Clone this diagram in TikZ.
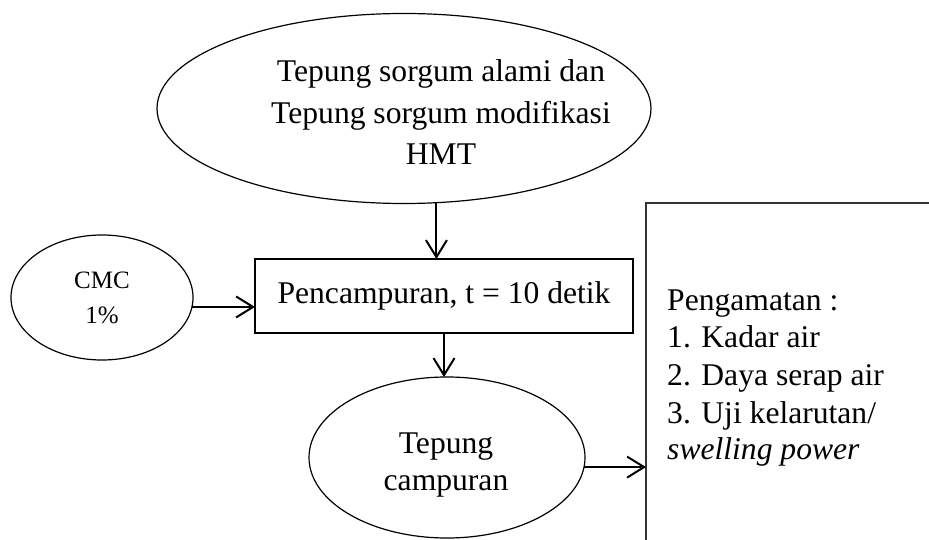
\documentclass[tikz,border=0pt]{standalone}
\usepackage{fontspec}
\setmainfont{Liberation Serif}
\usetikzlibrary{shapes.geometric,arrows.meta,calc}
\begin{document}
\begin{tikzpicture}[x=1pt,y=-1pt,
  ell/.style={draw, ellipse, line width=1.2pt, inner sep=0pt, outer sep=0pt},
  txt/.style={inner sep=0pt, anchor=base, font=\fontsize{31.6}{37.7}\selectfont},
  smalltxt/.style={inner sep=0pt, anchor=base, font=\fontsize{25}{30}\selectfont},
  proc/.style={draw, rectangle, line width=1.2pt, inner sep=0pt, outer sep=0pt},
  arr/.style={line width=2pt, -{Straight Barb[length=17pt,width=21pt]}}
]
\clip (0,0) rectangle (929,540);
% top ellipse
\node[ell, minimum width=494pt, minimum height=190pt] (top) at (404,108.5) {};
\node[txt] (t1) at (441,81.7) {Tepung sorgum alami dan};
\node[txt] (t2) at (441,123.3) {Tepung sorgum modifikasi};
\node[txt] (t3) at (441,165) {HMT};
% mixing box
\node[proc, minimum width=378pt, minimum height=74pt, font=\fontsize{31.6}{37.7}\selectfont] (pc) at (444,296) {Pencampuran, t = 10 detik};
% CMC
\node[ell, minimum width=182pt, minimum height=125pt] (cmc) at (102,297.5) {};
\node[smalltxt] (c1) at (102,288) {CMC};
\node[smalltxt] (c2) at (102,323) {1\%};
% Tepung campuran
\node[ell, minimum width=276pt, minimum height=161pt] (tc) at (447,457.5) {};
\node[txt] (tc1) at (446,453) {Tepung};
\node[txt] (tc2) at (446,490) {campuran};
% observation box
\node[draw=black!80, line width=1.5pt, rectangle, inner sep=0pt, outer sep=0pt, anchor=north west, minimum width=320pt, minimum height=380pt] (obs) at (646,203) {};
\node[txt, anchor=base west] (o1) at (667,310) {Pengamatan :};
\node[txt, anchor=base west] (o2) at (667,347.7) {1. Kadar air};
\node[txt, anchor=base west] (o3) at (667,385.4) {2. Daya serap air};
\node[txt, anchor=base west] (o4) at (667,423) {3. Uji kelarutan/};
\node[txt, anchor=base west] (o5) at (667,459.5) {\itshape swelling power};
% arrows
\draw[arr] (top.-71) -- (top.-71 |- pc.north);
\draw[arr] (cmc.-6) -- (cmc.-6 -| pc.west);
\draw[arr] (pc.south) -- (pc.south |- tc.north);
\draw[arr] (tc.-4) -- (tc.-4 -| obs.west);
\end{tikzpicture}
\end{document}
